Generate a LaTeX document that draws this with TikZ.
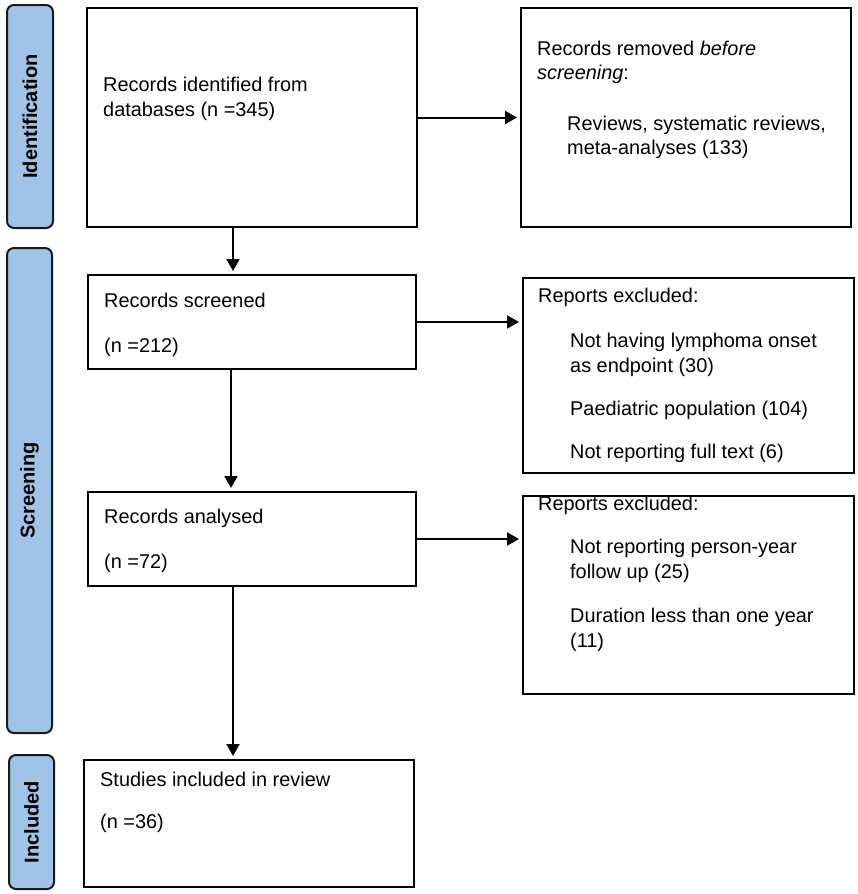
\documentclass[tikz,border=0pt]{standalone}
\usepackage{fontspec}
\setmainfont{Liberation Sans}
\usetikzlibrary{arrows.meta}
\definecolor{barblue}{HTML}{9FC4E8}
\definecolor{barline}{HTML}{1A1A1A}
\begin{document}
\begin{tikzpicture}[x=1pt,y=-1pt,
  box/.style={draw=black, line width=2pt, inner sep=0pt, anchor=north west, fill=white},
  bar/.style={draw=barline, line width=2pt, fill=barblue, rounded corners=7pt, inner sep=0pt, rotate=90, font=\fontsize{20}{24}\selectfont\bfseries},
  txt/.style={inner sep=0pt, anchor=base west, font=\fontsize{19.9}{25}\selectfont},
  arr/.style={-{Triangle[length=12pt,width=13pt]}, line width=2pt, shorten >=3pt}
]
\useasboundingbox (0,0) rectangle (857,894);

% phase bars
\node[bar, minimum width=223pt, minimum height=46pt] (idbar) at (30,116.5) {Identification};
\node[bar, minimum width=485pt, minimum height=45pt] (scbar) at (29.5,490.5) {Screening};
\node[bar, minimum width=134pt, minimum height=45pt] (inbar) at (31.5,822) {Included};

% boxes
\node[box, minimum width=330pt, minimum height=219pt] (b1) at (86,7) {};
\node[box, minimum width=330pt, minimum height=219pt] (rem) at (520,7) {};
\node[box, minimum width=328pt, minimum height=94pt] (scr) at (87,274) {};
\node[box, minimum width=331pt, minimum height=195pt] (ex1) at (522,277) {};
\node[box, minimum width=328pt, minimum height=94pt] (ana) at (87,491) {};
\node[box, minimum width=331pt, minimum height=198pt] (ex2) at (522,495) {};
\node[box, minimum width=330pt, minimum height=127pt] (inc) at (83,759) {};

% texts
\node[txt] (t1a) at (103,91) {Records identified from};
\node[txt] (t1b) at (103,116) {databases (n =345)};

\node[txt] (t2a) at (537,55) {Records removed \textit{before}};
\node[txt] (t2b) at (537,79) {\textit{screening}:};
\node[txt] (t2c) at (567,130) {Reviews, systematic reviews,};
\node[txt] (t2d) at (567,154) {meta-analyses (133)};

\node[txt] (t3a) at (104,307) {Records screened};
\node[txt] (t3b) at (104,352) {(n =212)};

\node[txt] (t4a) at (538,302) {Reports excluded:};
\node[txt] (t4b) at (570,347) {Not having lymphoma onset};
\node[txt] (t4c) at (570,372) {as endpoint (30)};
\node[txt] (t4d) at (570,415) {Paediatric population (104)};
\node[txt] (t4e) at (570,458) {Not reporting full text (6)};

\node[txt] (t5a) at (104,523) {Records analysed};
\node[txt] (t5b) at (104,568) {(n =72)};

\node[txt] (t6a) at (538,510) {Reports excluded:};
\node[txt] (t6b) at (570,553) {Not reporting person-year};
\node[txt] (t6c) at (570,578) {follow up (25)};
\node[txt] (t6d) at (570,622) {Duration less than one year};
\node[txt] (t6e) at (570,647) {(11)};

\node[txt] (t7a) at (100,786) {Studies included in review};
\node[txt] (t7b) at (100,828) {(n =36)};

% connectors
\coordinate (ax1) at (233,0);
\coordinate (ax2) at (231,0);
\draw[arr] (b1.south -| ax1) -- (scr.north -| ax1);
\draw[arr] (scr.south -| ax2) -- (ana.north -| ax2);
\draw[arr] (ana.south -| ax1) -- (inc.north -| ax1);
\draw[arr] (b1.east) -- (b1.east -| rem.west);
\draw[arr] (scr.east) -- (scr.east -| ex1.west);
\draw[arr] (ana.east) -- (ana.east -| ex2.west);
\end{tikzpicture}
\end{document}
